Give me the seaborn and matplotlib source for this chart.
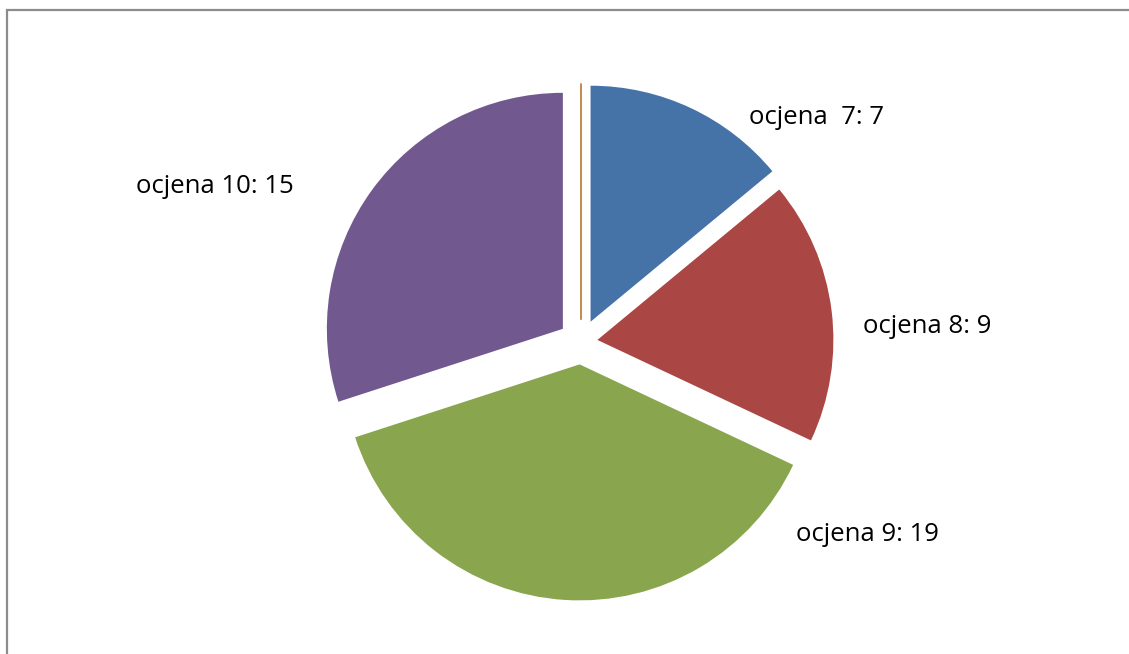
import matplotlib

matplotlib.use("Agg")

import matplotlib.pyplot as plt
import seaborn as sns
from matplotlib.patches import Rectangle

sns.set_theme(style="white")
plt.rcParams["font.family"] = ["Open Sans", "DejaVu Sans"]

# -----------------------------
# Data (clockwise from the top)
# -----------------------------
grades = ["ocjena  7", "ocjena 8", "ocjena 9", "ocjena 10", "ocjena 5", "ocjena 6"]
counts = [7, 9, 19, 15, 0, 0]
colors = ["#4572A7", "#AA4643", "#89A54E", "#71588F", "#4198AF", "#DB843D"]

# label spots, in pie radii from the centre
label_xy = [(1.00, 0.924), (1.468, 0.038), (1.215, -0.844), (-1.553, 0.633)]

# -----------------------------
# Figure
# -----------------------------
W, H, DPI = 1129, 654, 100
R_PX = 236
CX, CY = 581, 342

fig = plt.figure(figsize=(W / DPI, H / DPI), dpi=DPI)
fig.patch.set_facecolor("white")
ax = fig.add_axes([0, 0, 1, 1])

wedges, _ = ax.pie(
    counts,
    colors=colors,
    startangle=90,
    counterclock=False,
    explode=[0.095, 0.07, 0.095, 0.095, 0.095, 0.095],
    radius=1,
    wedgeprops=dict(linewidth=0),
)

# zero slices show as a thin line
for w, v, c in zip(wedges, counts, colors):
    if v == 0:
        w.set_edgecolor(c)
        w.set_linewidth(1.2)

for (x, y), g, v in zip(label_xy, grades, counts):
    ax.text(x, y, f"{g}: {v}", ha="center", va="baseline", fontsize=18.5,
            color="black")

ax.set_xlim(-CX / R_PX, (W - CX) / R_PX)
ax.set_ylim(-(H - CY) / R_PX, CY / R_PX)
ax.set_aspect("equal")
ax.axis("off")

# chart-area frame (runs off the right and bottom edges)
fig.patches.append(
    Rectangle((7 / W, -0.1), 1.2, 1.1 - 10 / H,
              transform=fig.transFigure, fill=False,
              edgecolor="#8c8c8c", linewidth=1.6)
)

fig.savefig("out.png", dpi=DPI, facecolor="white")
plt.close(fig)
